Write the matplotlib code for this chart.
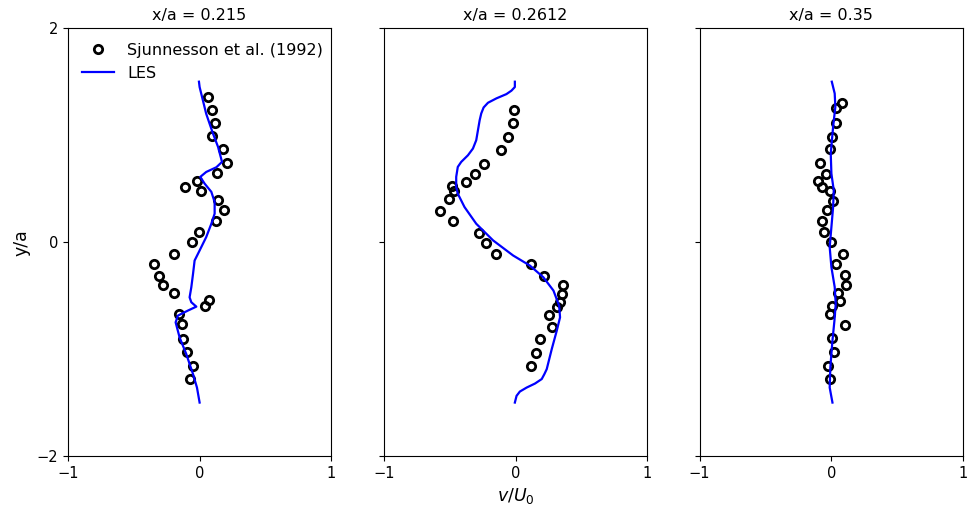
import numpy as np
import matplotlib
matplotlib.use("Agg")
import matplotlib.pyplot as plt

titles = ["x/a = 0.215", "x/a = 0.2612", "x/a = 0.35"]

# experiment (Sjunnesson et al. 1992): v/U0 and y/a
exp_v1 = [0.063, 0.096, 0.114, 0.096, 0.177, 0.208, 0.134, -0.023, -0.114, 0.013,
          0.139, 0.182, 0.122, -0.005, -0.058, -0.192, -0.349, -0.309, -0.276, -0.192,
          0.073, 0.043, -0.159, -0.134, -0.127, -0.099, -0.048, -0.071]
exp_y1 = [1.36, 1.24, 1.11, 0.99, 0.875, 0.744, 0.644, 0.572, 0.519, 0.475,
          0.397, 0.303, 0.194, 0.097, 0.0, -0.109, -0.206, -0.316, -0.403, -0.478,
          -0.541, -0.597, -0.672, -0.769, -0.906, -1.028, -1.156, -1.278]

exp_v2 = [-0.013, -0.020, -0.059, -0.107, -0.242, -0.310, -0.374, -0.483, -0.463, -0.501,
          -0.573, -0.478, -0.280, -0.224, -0.148, 0.115, 0.214, 0.364, 0.354, 0.338,
          0.318, 0.254, 0.277, 0.183, 0.153, 0.120]
exp_y2 = [1.234, 1.112, 0.984, 0.866, 0.734, 0.637, 0.562, 0.522, 0.475, 0.40,
          0.29, 0.194, 0.087, -0.009, -0.109, -0.206, -0.316, -0.40, -0.487, -0.562,
          -0.609, -0.681, -0.79, -0.909, -1.037, -1.159]

exp_v3 = [0.084, 0.038, 0.033, 0.005, -0.008, -0.086, -0.041, -0.099, -0.071, -0.008,
          0.013, -0.030, -0.071, -0.053, 0.0, 0.089, 0.038, 0.102, 0.112, 0.051,
          0.069, 0.008, -0.008, 0.102, 0.008, 0.020, -0.028, -0.008]
exp_y3 = [1.30, 1.25, 1.112, 0.984, 0.875, 0.744, 0.637, 0.572, 0.519, 0.475,
          0.387, 0.303, 0.194, 0.097, 0.0, -0.109, -0.206, -0.303, -0.403, -0.475,
          -0.55, -0.594, -0.672, -0.778, -0.90, -1.028, -1.159, -1.278]

# LES profiles
les_v1 = [-0.005, 0.0, 0.05, 0.10, 0.14, 0.17, 0.127, 0.05, 0.005, 0.038,
          0.089, 0.114, 0.114, 0.089, 0.05, 0.0, -0.038, -0.05, -0.063, -0.076,
          -0.063, -0.025, -0.089, -0.165, -0.182, -0.152, -0.101, -0.05, -0.020, 0.0]
les_y1 = [1.5, 1.45, 1.2, 1.02, 0.89, 0.75, 0.70, 0.656, 0.61, 0.547,
          0.47, 0.375, 0.266, 0.172, 0.047, -0.078, -0.172, -0.297, -0.422, -0.516,
          -0.562, -0.603, -0.64, -0.687, -0.75, -0.89, -1.047, -1.234, -1.36, -1.5]

les_v2 = [-0.005, -0.005, -0.031, -0.069, -0.145, -0.209, -0.242, -0.260, -0.272, -0.298,
          -0.323, -0.361, -0.412, -0.438, -0.45, -0.45, -0.438, -0.387, -0.298, -0.170,
          -0.018, 0.109, 0.211, 0.288, 0.331, 0.338, 0.313, 0.275, 0.237, 0.219,
          0.199, 0.148, 0.084, 0.033, 0.008, -0.005]
les_y2 = [1.5, 1.45, 1.416, 1.384, 1.344, 1.303, 1.259, 1.203, 1.14, 0.953,
          0.875, 0.812, 0.75, 0.703, 0.61, 0.516, 0.453, 0.328, 0.172, 0.016,
          -0.125, -0.219, -0.328, -0.453, -0.594, -0.703, -0.828, -1.0, -1.187, -1.234,
          -1.28, -1.322, -1.36, -1.397, -1.437, -1.5]

les_v3 = [0.003, 0.025, 0.030, 0.013, -0.005, 0.0, 0.018, 0.013, 0.0, -0.013,
          0.0, 0.025, 0.033, 0.023, 0.008, -0.008, -0.013, 0.008]
les_y3 = [1.5, 1.39, 1.265, 1.078, 0.828, 0.64, 0.484, 0.328, 0.14, -0.047,
          -0.234, -0.42, -0.578, -0.734, -0.92, -1.17, -1.36, -1.5]

exp_v = [exp_v1, exp_v2, exp_v3]
exp_y = [exp_y1, exp_y2, exp_y3]
les_v = [les_v1, les_v2, les_v3]
les_y = [les_y1, les_y2, les_y3]

fig = plt.figure(figsize=(9.69, 5.13), dpi=100)
lefts = [0.070, 0.396, 0.722]
axes = []
for i in range(3):
    ax = fig.add_axes([lefts[i], 0.111, 0.272, 0.834])
    ax.plot(exp_v[i], exp_y[i], 'o', mfc='none', mec='black', mew=2, ms=6,
            label='Sjunnesson et al. (1992)')
    ax.plot(les_v[i], les_y[i], color='blue', lw=1.6, label='LES')
    ax.set_xlim(-1, 1)
    ax.set_ylim(-2, 2)
    ax.set_xticks([-1, 0, 1])
    ax.set_yticks([-2, 0, 2])
    ax.tick_params(labelsize=10.5)
    ax.set_title(titles[i], fontsize=11.5)
    if i > 0:
        ax.set_yticklabels([])
    axes.append(ax)

axes[0].set_ylabel('y/a', fontsize=12.5)
axes[1].set_xlabel('$v/U_0$', fontsize=12.5)
axes[0].legend(loc='upper left', frameon=False, fontsize=11.5)

fig.savefig('out.png')
